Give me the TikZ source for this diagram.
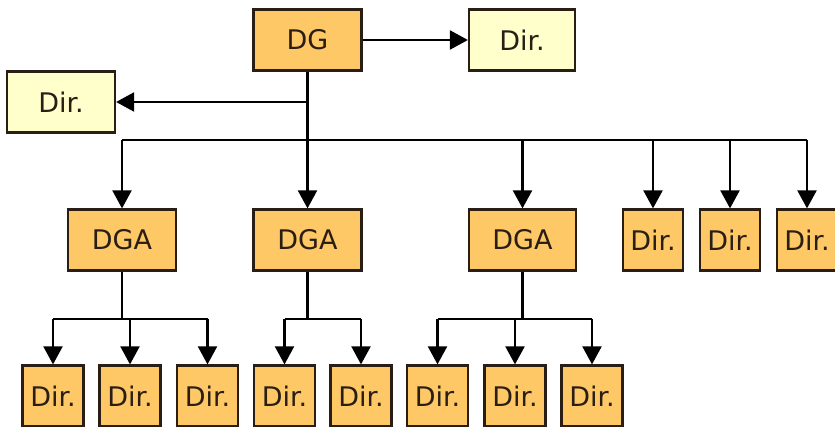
\documentclass[tikz,border=0pt]{standalone}
\usepackage{fontspec}
\setmainfont{DejaVu Sans}
\usetikzlibrary{arrows.meta}
\definecolor{boxfill}{HTML}{FDC865}
\definecolor{palefill}{HTML}{FFFFCC}
\definecolor{edge}{HTML}{2A1E14}
\begin{document}
\begin{tikzpicture}[x=1pt,y=-1pt,
  unit/.style={draw=edge, line width=2.2pt, fill=boxfill, inner sep=0pt,
    minimum height=61pt, font=\fontsize{27}{27}\selectfont, text=edge},
  pale/.style={unit, fill=palefill},
  wide/.style={minimum width=108pt},
  narrow/.style={minimum width=60pt},
  wire/.style={draw=black, line width=2.1pt},
  link/.style={wire, -{Triangle[length=18pt,width=19pt]}}]
\useasboundingbox (0,0) rectangle (835,427);

% top level
\node[unit, wide]  (dg)   at (307.5,40)  {DG};
\node[pale, wide, minimum width=106pt] (dirR) at (522,40) {Dir.};
\node[pale, wide]  (dirL) at (61,102)    {Dir.};

% second level
\node[unit, wide]   (dga1) at (122,240)   {DGA};
\node[unit, wide]   (dga2) at (307.5,240) {DGA};
\node[unit, wide, minimum width=107pt] (dga3) at (522.5,240) {DGA};
\node[unit, narrow] (r1) at (653,240) {Dir.};
\node[unit, narrow] (r2) at (730,240) {Dir.};
\node[unit, narrow] (r3) at (807,240) {Dir.};

% third level
\foreach \n/\x in {a1/53, a2/130, a3/207.5, b1/284.5, b2/361,
                   c1/437.5, c2/515, c3/592}
  \node[unit, narrow, minimum width=61pt] (\n) at (\x,396) {Dir.};

% connectors from DG
\draw[link] (dg) -- (dirR);
\draw[link] (dg.south) -- (dga2.north);
\coordinate (jl) at (307.5,102);
\draw[link] (jl) -- (dirL.east);

% main bus
\coordinate (bus) at (307.5,140);
\draw[wire] (bus -| dga1) -- (bus -| r3);
\foreach \n in {dga1, dga3, r1, r2, r3}
  \draw[link] (bus -| \n) -- (\n.north);

% sub buses
\coordinate (sa) at (122,319);
\draw[wire] (dga1.south) -- (sa);
\draw[wire] (sa -| a1) -- (sa -| a3);
\foreach \n in {a1, a2, a3}
  \draw[link] (sa -| \n) -- (\n.north);

\coordinate (sb) at (307.5,319);
\draw[wire] (dga2.south) -- (sb);
\draw[wire] (sb -| b1) -- (sb -| b2);
\foreach \n in {b1, b2}
  \draw[link] (sb -| \n) -- (\n.north);

\coordinate (sc) at (522.5,319);
\draw[wire] (dga3.south) -- (sc);
\draw[wire] (sc -| c1) -- (sc -| c3);
\foreach \n in {c1, c2, c3}
  \draw[link] (sc -| \n) -- (\n.north);
\end{tikzpicture}
\end{document}
